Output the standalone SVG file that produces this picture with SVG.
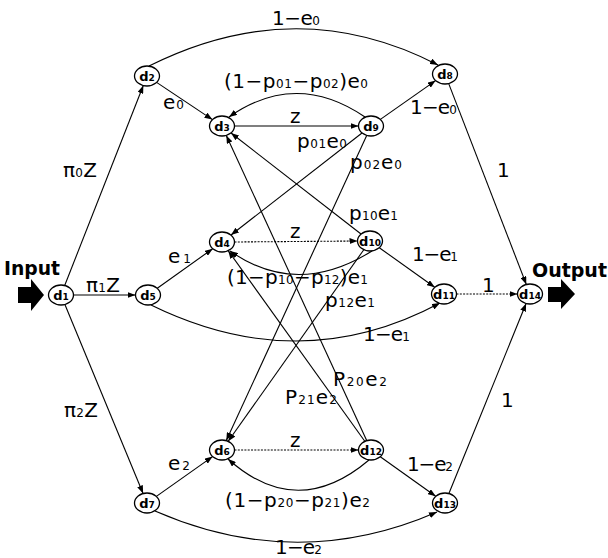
<svg xmlns="http://www.w3.org/2000/svg" width="608" height="558" viewBox="0 0 608 558">
<style>
.e{fill:none;stroke:#000;stroke-width:1.1}
.dot{stroke-dasharray:2 1.3}
.n ellipse{fill:#fff;stroke:#000;stroke-width:1.3}
.n text{font-family:"DejaVu Sans",sans-serif;font-weight:bold;font-size:13px;text-anchor:middle}
.n .ns{font-size:9px}
.l{font-family:"DejaVu Sans",sans-serif;font-size:20px;fill:#000}
.s{font-size:12px}
.b{font-family:"DejaVu Sans",sans-serif;font-weight:bold;font-size:19px}
</style>
<defs>
<marker id="ah" markerWidth="8" markerHeight="6" refX="8" refY="3" orient="auto" markerUnits="userSpaceOnUse"><path d="M0,0 L8,3 L0,6 z" fill="#000"/></marker>
</defs>
<rect width="608" height="558" fill="#fff"/>
<g id="connectors">
<line class="e" x1="64.7" y1="285.5" x2="143.3" y2="85.5" marker-end="url(#ah)"/>
<line class="e" x1="73.5" y1="295" x2="135.5" y2="295" marker-end="url(#ah)"/>
<line class="e" x1="64.9" y1="304.5" x2="143.1" y2="493.5" marker-end="url(#ah)"/>
<line class="e" x1="156.6" y1="82.4" x2="212.4" y2="119.6" marker-end="url(#ah)"/>
<line class="e" x1="234.5" y1="126" x2="358.5" y2="126" marker-end="url(#ah)"/>
<line class="e" x1="380.4" y1="119.4" x2="435.6" y2="80.6" marker-end="url(#ah)"/>
<line class="e" x1="448.7" y1="83.6" x2="526.3" y2="284.4" marker-end="url(#ah)"/>
<line class="e" x1="157.3" y1="288.3" x2="212.7" y2="248.7" marker-end="url(#ah)"/>
<line class="e dot" x1="234.5" y1="242" x2="357.5" y2="241" marker-end="url(#ah)"/>
<line class="e" x1="379.3" y1="247.7" x2="434.7" y2="287.3" marker-end="url(#ah)"/>
<line class="e dot" x1="456.5" y1="294" x2="517.5" y2="294" marker-end="url(#ah)"/>
<line class="e" x1="156.4" y1="496.4" x2="212.6" y2="456.6" marker-end="url(#ah)"/>
<line class="e dot" x1="234.5" y1="450" x2="358.5" y2="450" marker-end="url(#ah)"/>
<line class="e" x1="380.3" y1="456.7" x2="435.7" y2="496.3" marker-end="url(#ah)"/>
<line class="e" x1="448.9" y1="493.5" x2="526.1" y2="303.5" marker-end="url(#ah)"/>
<line class="e" x1="362" y1="133" x2="231" y2="235" marker-end="url(#ah)"/>
<line class="e" x1="366.7" y1="135.4" x2="226.3" y2="440.6" marker-end="url(#ah)"/>
<line class="e" x1="361" y1="234" x2="231" y2="133" marker-end="url(#ah)"/>
<line class="e" x1="363.8" y1="249.7" x2="228.2" y2="441.3" marker-end="url(#ah)"/>
<line class="e" x1="366.7" y1="440.6" x2="226.3" y2="135.4" marker-end="url(#ah)"/>
<line class="e" x1="364.8" y1="441.3" x2="228.2" y2="250.7" marker-end="url(#ah)"/>
<path class="e" d="M149,66 Q297,-8 438,65" marker-end="url(#ah)"/>
<path class="e" d="M365,117 Q296,70 229,117" marker-end="url(#ah)"/>
<path class="e" d="M372,251 Q297,298 230,251" marker-end="url(#ah)"/>
<path class="e" d="M151,305 Q300,378 440,303" marker-end="url(#ah)"/>
<path class="e" d="M369,460 Q297,521 228,459" marker-end="url(#ah)"/>
<path class="e" d="M155,511 Q297,573 437,512" marker-end="url(#ah)"/>
</g>
<g id="edge-labels" class="l">
<text x="272" y="25" textLength="48" lengthAdjust="spacing">1−e<tspan class="s">0</tspan></text>
<text x="224" y="88" textLength="144" lengthAdjust="spacing">(1−p<tspan class="s">01</tspan>−p<tspan class="s">02</tspan>)e<tspan class="s">0</tspan></text>
<text x="163" y="109" textLength="21" lengthAdjust="spacing">e<tspan class="s">0</tspan></text>
<text x="290" y="123">z</text>
<text x="63" y="177" textLength="34" lengthAdjust="spacing">π<tspan class="s">0</tspan>Z</text>
<text x="297" y="148" textLength="50" lengthAdjust="spacing">p<tspan class="s">01</tspan>e<tspan class="s">0</tspan></text>
<text x="350" y="169" textLength="52" lengthAdjust="spacing">p<tspan class="s">02</tspan>e<tspan class="s">0</tspan></text>
<text x="410" y="114" textLength="47" lengthAdjust="spacing">1−e<tspan class="s">0</tspan></text>
<text x="497" y="177">1</text>
<text x="349" y="220" textLength="49" lengthAdjust="spacing">p<tspan class="s">10</tspan>e<tspan class="s">1</tspan></text>
<text x="412" y="261" textLength="46" lengthAdjust="spacing">1−e<tspan class="s">1</tspan></text>
<text x="290" y="238">z</text>
<text x="227" y="284" textLength="141" lengthAdjust="spacing">(1−p<tspan class="s">10</tspan>−p<tspan class="s">12</tspan>)e<tspan class="s">1</tspan></text>
<text x="168" y="263" textLength="23" lengthAdjust="spacing">e<tspan class="s">1</tspan></text>
<text x="86" y="292" textLength="34" lengthAdjust="spacing">π<tspan class="s">1</tspan>Z</text>
<text x="482" y="292">1</text>
<text x="325" y="307" textLength="50" lengthAdjust="spacing">p<tspan class="s">12</tspan>e<tspan class="s">1</tspan></text>
<text x="363" y="341" textLength="47" lengthAdjust="spacing">1−e<tspan class="s">1</tspan></text>
<text x="333" y="386" textLength="54" lengthAdjust="spacing">P<tspan class="s">20</tspan>e<tspan class="s">2</tspan></text>
<text x="285" y="404" textLength="52" lengthAdjust="spacing">P<tspan class="s">21</tspan>e<tspan class="s">2</tspan></text>
<text x="501" y="407">1</text>
<text x="64" y="417" textLength="34" lengthAdjust="spacing">π<tspan class="s">2</tspan>Z</text>
<text x="290" y="447">z</text>
<text x="168" y="470" textLength="22" lengthAdjust="spacing">e<tspan class="s">2</tspan></text>
<text x="407" y="471" textLength="46" lengthAdjust="spacing">1−e<tspan class="s">2</tspan></text>
<text x="225" y="507" textLength="145" lengthAdjust="spacing">(1−p<tspan class="s">20</tspan>−p<tspan class="s">21</tspan>)e<tspan class="s">2</tspan></text>
<text x="275" y="554" textLength="47" lengthAdjust="spacing">1−e<tspan class="s">2</tspan></text>
</g>
<g id="input">
<path d="M18,287 L31,287 L31,279 L44,295 L31,311 L31,303 L18,303 z" fill="#000"/>
<text class="b" x="4" y="275" textLength="56" lengthAdjust="spacingAndGlyphs">Input</text>
</g>
<g id="output">
<path d="M548,287 L561,287 L561,279 L575,294 L561,309 L561,302 L548,302 z" fill="#000"/>
<text class="b" x="532" y="277" textLength="75" lengthAdjust="spacingAndGlyphs">Output</text>
</g>
<g id="d1" class="n"><ellipse cx="61" cy="295" rx="12.5" ry="10"/><text x="61" y="299.5">d<tspan class="ns">1</tspan></text></g>
<g id="d2" class="n"><ellipse cx="147" cy="76" rx="12.5" ry="10"/><text x="147" y="80.5">d<tspan class="ns">2</tspan></text></g>
<g id="d3" class="n"><ellipse cx="222" cy="126" rx="12.5" ry="10"/><text x="222" y="130.5">d<tspan class="ns">3</tspan></text></g>
<g id="d4" class="n"><ellipse cx="222" cy="242" rx="12.5" ry="10"/><text x="222" y="246.5">d<tspan class="ns">4</tspan></text></g>
<g id="d5" class="n"><ellipse cx="148" cy="295" rx="12.5" ry="10"/><text x="148" y="299.5">d<tspan class="ns">5</tspan></text></g>
<g id="d6" class="n"><ellipse cx="222" cy="450" rx="12.5" ry="10"/><text x="222" y="454.5">d<tspan class="ns">6</tspan></text></g>
<g id="d7" class="n"><ellipse cx="147" cy="503" rx="12.5" ry="10"/><text x="147" y="507.5">d<tspan class="ns">7</tspan></text></g>
<g id="d8" class="n"><ellipse cx="445" cy="74" rx="12.5" ry="10"/><text x="445" y="78.5">d<tspan class="ns">8</tspan></text></g>
<g id="d9" class="n"><ellipse cx="371" cy="126" rx="12.5" ry="10"/><text x="371" y="130.5">d<tspan class="ns">9</tspan></text></g>
<g id="d10" class="n"><ellipse cx="370" cy="241" rx="12.5" ry="10"/><text x="370" y="245.5">d<tspan class="ns">10</tspan></text></g>
<g id="d11" class="n"><ellipse cx="444" cy="294" rx="12.5" ry="10"/><text x="444" y="298.5">d<tspan class="ns">11</tspan></text></g>
<g id="d12" class="n"><ellipse cx="371" cy="450" rx="12.5" ry="10"/><text x="371" y="454.5">d<tspan class="ns">12</tspan></text></g>
<g id="d13" class="n"><ellipse cx="445" cy="503" rx="12.5" ry="10"/><text x="445" y="507.5">d<tspan class="ns">13</tspan></text></g>
<g id="d14" class="n"><ellipse cx="530" cy="294" rx="12.5" ry="10"/><text x="530" y="298.5">d<tspan class="ns">14</tspan></text></g>
</svg>
